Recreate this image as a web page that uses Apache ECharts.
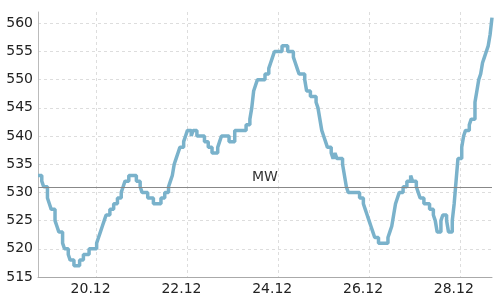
<!DOCTYPE html>
<html>
<head>
<meta charset="utf-8">
<script src="https://cdn.jsdelivr.net/npm/echarts@6/dist/echarts.min.js"></script>
<style>
html,body{margin:0;padding:0;background:#fff;}
#chart{width:500px;height:300px;}
</style>
</head>
<body>
<div id="chart"></div>
<script>
// Hourly time axis: 18.12 17:00 .. 28.12 17:00
const startDay = 18;
const startHour = 17;
const totalHours = 240;
const categories = [];
for (let i = 0; i <= totalHours; i++) {
  const t = startHour + i;
  const d = startDay + Math.floor(t / 24);
  const h = t % 24;
  categories.push(d + '.12 ' + (h < 10 ? '0' + h : h) + ':00');
}
const tickLabels = ['20.12', '22.12', '24.12', '26.12', '28.12'];

// Step changes: hour index where a new level starts, and that level
const changeHours = [
  0, 2, 3, 5, 6, 7, 9, 10, 11, 13, 14, 16, 17, 19, 22, 24, 27,
  31, 32, 33, 34, 35, 36, 38, 40, 42, 44, 45, 46, 48, 52, 54, 55, 58, 61,
  65, 67, 69, 70, 71, 72, 73, 74, 75, 77, 78, 79, 81, 82, 84, 88, 90, 92,
  95, 96, 97, 101, 104, 110, 112, 113, 114, 115, 116, 120, 122, 123, 124, 125,
  129, 132, 135, 136, 137, 138, 141, 142, 144, 147, 148, 149, 150, 151, 152, 153,
  155, 156, 157, 158, 161, 162, 163, 164, 170, 172, 173, 174, 175, 176, 177, 178,
  180, 185, 186, 187, 188, 189, 190, 191, 193, 195, 197, 198, 200, 201, 202, 204,
  207, 209, 210, 211, 213, 214, 216, 217, 219, 220, 221, 222, 224, 225, 226, 228,
  229, 231, 232, 233, 234, 235, 236, 237, 238, 239, 240
];
const levelValues = [
  533, 532, 531, 529, 528, 527, 525, 524, 523, 521, 520, 519, 518, 517, 518, 519, 520,
  521, 522, 523, 524, 525, 526, 527, 528, 529, 530, 531, 532, 533, 532, 531, 530, 529, 528,
  529, 530, 531, 532, 533, 535, 536, 537, 538, 539, 540, 541, 540, 541, 540, 539, 538, 537,
  538, 539, 540, 539, 541, 542, 543, 545, 548, 549, 550, 551, 552, 553, 554, 555,
  556, 555, 554, 553, 552, 551, 550, 548, 547, 546, 545, 543, 541, 540, 539, 538,
  537, 536, 537, 536, 535, 533, 531, 530, 529, 528, 527, 526, 525, 524, 523, 522,
  521, 522, 523, 524, 526, 528, 529, 530, 531, 532, 533, 532, 531, 530, 529, 528,
  527, 526, 525, 523, 525, 526, 525, 523, 525, 528, 532, 536, 538, 540, 541, 542,
  543, 546, 548, 550, 551, 553, 554, 555, 556, 558, 561
];
const meanValue = 531;
const meanLabel = 'MW';

const seriesData = changeHours.map((h, i) => [h, levelValues[i]]);
const labelIdx = new Set();
categories.forEach((c, i) => {
  const parts = c.split(' ');
  if (parts[1] === '00:00' && tickLabels.indexOf(parts[0]) >= 0) labelIdx.add(i);
});
const showAt = (idx) => labelIdx.has(idx);

const chart = echarts.init(document.getElementById('chart'), null, {renderer: 'canvas'});
chart.setOption({
  animation: false,
  backgroundColor: '#ffffff',
  grid: {left: 38, right: 8, top: 12, bottom: 23},
  xAxis: {
    type: 'category',
    data: categories,
    boundaryGap: false,
    axisLine: {lineStyle: {color: '#aaaaaa', width: 1}},
    axisTick: {show: false},
    axisLabel: {
      interval: (idx) => showAt(idx),
      formatter: (v) => v.split(' ')[0],
      color: '#222',
      fontFamily: 'DejaVu Sans',
      fontSize: 14,
      margin: 5,
      padding: [0, 12, 0, 0]
    },
    splitLine: {
      show: true,
      interval: (idx) => showAt(idx),
      lineStyle: {color: '#dddddd', type: [3, 3], width: 1}
    }
  },
  yAxis: {
    type: 'value',
    min: 515,
    max: 562,
    interval: 5,
    axisLine: {show: true, lineStyle: {color: '#bbbbbb', width: 1}},
    axisTick: {show: false},
    axisLabel: {
      color: '#222',
      fontFamily: 'DejaVu Sans',
      fontSize: 14,
      margin: 5,
      showMaxLabel: false
    },
    splitLine: {
      show: true,
      showMaxLine: false,
      lineStyle: {color: '#dddddd', type: [3, 3], width: 1}
    }
  },
  series: [{
    type: 'line',
    step: 'end',
    data: seriesData,
    showSymbol: false,
    symbol: 'none',
    clip: false,
    lineStyle: {color: '#7ab2cb', width: 3.5},
    markLine: {
      silent: true,
      symbol: 'none',
      data: [{yAxis: meanValue}],
      lineStyle: {color: '#888888', width: 1, type: 'solid'},
      label: {
        show: true,
        position: 'middle',
        formatter: meanLabel,
        color: '#333',
        fontFamily: 'DejaVu Sans',
        fontSize: 14,
        distance: 2
      }
    }
  }]
});
</script>
</body>
</html>
